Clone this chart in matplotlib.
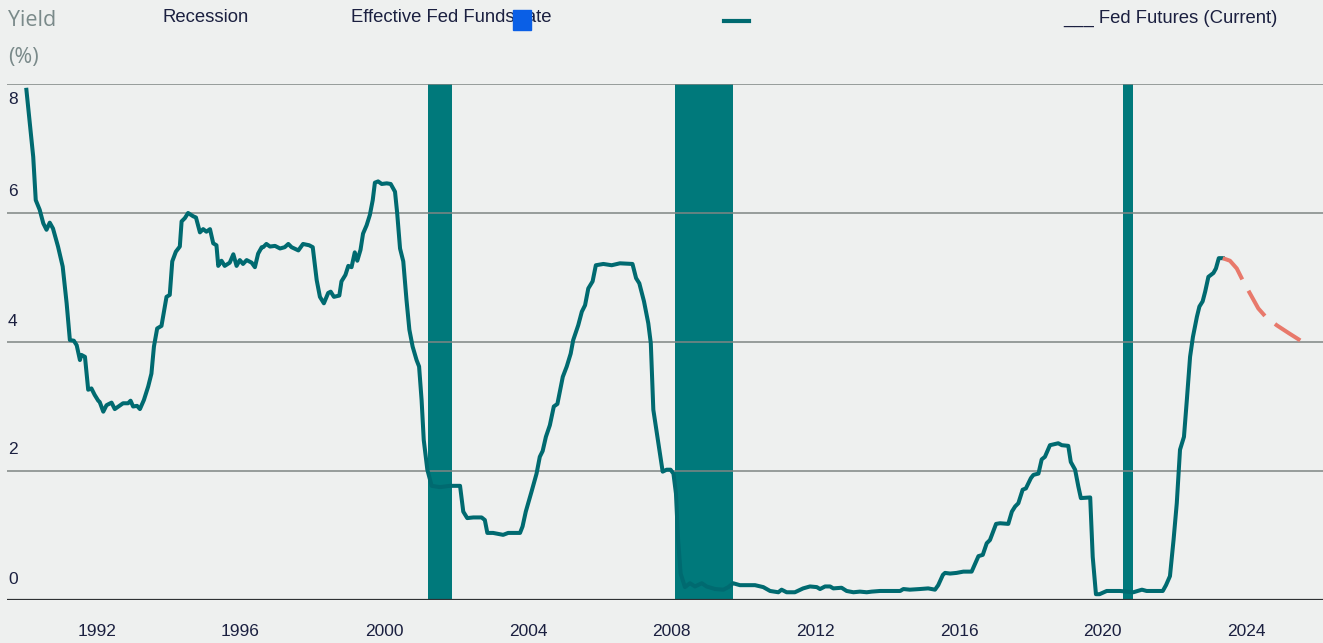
import matplotlib
matplotlib.use('Agg')
import matplotlib.pyplot as plt
from matplotlib.patches import Rectangle
from matplotlib.lines import Line2D

plt.rcParams['font.family'] = ['Liberation Sans', 'DejaVu Sans']

# effective fed funds rate (year, %)
rate_years = [1990.04, 1990.23, 1990.30, 1990.41, 1990.51, 1990.60, 1990.69, 1990.78, 1990.92, 1991.05,
              1991.16, 1991.25, 1991.36, 1991.44, 1991.53, 1991.57, 1991.67, 1991.76, 1991.85, 1991.94,
              1992.04, 1992.08, 1992.18, 1992.27, 1992.41, 1992.50, 1992.73, 1992.87, 1992.94, 1993.01,
              1993.12, 1993.20, 1993.31, 1993.43, 1993.52, 1993.59, 1993.68, 1993.80, 1993.94, 1994.03,
              1994.10, 1994.20, 1994.31, 1994.36, 1994.45, 1994.54, 1994.68, 1994.76, 1994.87, 1994.96,
              1995.05, 1995.15, 1995.24, 1995.33, 1995.38, 1995.47, 1995.56, 1995.70, 1995.80, 1995.89,
              1995.98, 1996.07, 1996.17, 1996.31, 1996.40, 1996.49, 1996.59, 1996.63, 1996.72, 1996.82,
              1996.96, 1997.10, 1997.23, 1997.33, 1997.42, 1997.61, 1997.74, 1997.91, 1998.01, 1998.12,
              1998.21, 1998.32, 1998.44, 1998.51, 1998.60, 1998.75, 1998.81, 1998.92, 1999.00, 1999.09,
              1999.18, 1999.25, 1999.34, 1999.41, 1999.51, 1999.60, 1999.68, 1999.74, 1999.83, 1999.93,
              2000.07, 2000.18, 2000.30, 2000.36, 2000.44, 2000.53, 2000.62, 2000.70, 2000.79, 2000.90,
              2000.97, 2001.04, 2001.10, 2001.20, 2001.32, 2001.55, 2001.83, 2002.11, 2002.20, 2002.31,
              2002.48, 2002.71, 2002.80, 2002.87, 2003.03, 2003.31, 2003.45, 2003.78, 2003.85, 2003.94,
              2004.10, 2004.24, 2004.33, 2004.41, 2004.50, 2004.61, 2004.72, 2004.82, 2004.97, 2005.08,
              2005.19, 2005.26, 2005.40, 2005.50, 2005.59, 2005.68, 2005.80, 2005.89, 2006.10, 2006.33,
              2006.56, 2006.91, 2007.01, 2007.10, 2007.23, 2007.35, 2007.42, 2007.49, 2007.63, 2007.75,
              2007.86, 2007.97, 2008.05, 2008.12, 2008.18, 2008.25, 2008.37, 2008.51, 2008.65, 2008.84,
              2008.97, 2009.21, 2009.44, 2009.58, 2009.71, 2009.90, 2010.32, 2010.55, 2010.74, 2010.97,
              2011.06, 2011.20, 2011.43, 2011.66, 2011.85, 2012.04, 2012.13, 2012.27, 2012.41, 2012.50,
              2012.73, 2012.87, 2013.06, 2013.24, 2013.43, 2013.57, 2013.80, 2014.36, 2014.45, 2014.63,
              2014.91, 2015.14, 2015.33, 2015.42, 2015.55, 2015.61, 2015.75, 2015.93, 2016.12, 2016.35,
              2016.47, 2016.54, 2016.66, 2016.77, 2016.86, 2017.03, 2017.14, 2017.37, 2017.47, 2017.56,
              2017.65, 2017.77, 2017.86, 2018.00, 2018.07, 2018.21, 2018.30, 2018.39, 2018.53, 2018.76,
              2018.86, 2019.04, 2019.11, 2019.23, 2019.32, 2019.39, 2019.65, 2019.72, 2019.81, 2019.91,
              2020.11, 2020.48, 2020.85, 2021.09, 2021.22, 2021.67, 2021.76, 2021.87, 2021.97, 2022.06,
              2022.15, 2022.26, 2022.34, 2022.43, 2022.51, 2022.62, 2022.69, 2022.78, 2022.85, 2022.94,
              2023.08, 2023.15, 2023.23, 2023.34]
rate_values = [7.91, 6.87, 6.20, 6.05, 5.84, 5.74, 5.85, 5.76, 5.48, 5.17,
               4.60, 4.03, 4.02, 3.95, 3.72, 3.80, 3.77, 3.26, 3.28, 3.18,
               3.09, 3.07, 2.92, 3.02, 3.06, 2.96, 3.05, 3.05, 3.09, 3.00,
               3.01, 2.96, 3.10, 3.31, 3.51, 3.93, 4.21, 4.25, 4.70, 4.73,
               5.25, 5.40, 5.48, 5.87, 5.92, 6.00, 5.95, 5.93, 5.70, 5.75,
               5.71, 5.75, 5.53, 5.50, 5.18, 5.26, 5.18, 5.23, 5.36, 5.18,
               5.27, 5.21, 5.27, 5.23, 5.16, 5.37, 5.47, 5.47, 5.52, 5.48,
               5.49, 5.45, 5.47, 5.52, 5.47, 5.42, 5.52, 5.50, 5.47, 4.96,
               4.70, 4.60, 4.76, 4.78, 4.70, 4.72, 4.94, 5.04, 5.18, 5.16,
               5.39, 5.26, 5.43, 5.68, 5.81, 5.97, 6.20, 6.47, 6.49, 6.45,
               6.46, 6.45, 6.33, 6.00, 5.45, 5.25, 4.65, 4.19, 3.93, 3.72,
               3.62, 3.10, 2.48, 2.02, 1.77, 1.75, 1.77, 1.77, 1.37, 1.27,
               1.28, 1.28, 1.24, 1.04, 1.04, 1.01, 1.04, 1.04, 1.14, 1.37,
               1.68, 1.96, 2.22, 2.31, 2.53, 2.71, 3.00, 3.04, 3.46, 3.62,
               3.82, 4.03, 4.26, 4.47, 4.57, 4.83, 4.94, 5.19, 5.21, 5.19,
               5.22, 5.21, 4.99, 4.91, 4.63, 4.29, 3.98, 2.95, 2.43, 1.99,
               2.02, 2.02, 1.96, 1.65, 0.93, 0.41, 0.20, 0.26, 0.21, 0.26,
               0.21, 0.17, 0.16, 0.20, 0.26, 0.23, 0.23, 0.20, 0.14, 0.12,
               0.16, 0.12, 0.12, 0.18, 0.21, 0.20, 0.17, 0.21, 0.21, 0.18,
               0.19, 0.14, 0.12, 0.13, 0.12, 0.13, 0.14, 0.14, 0.17, 0.16,
               0.17, 0.18, 0.16, 0.23, 0.39, 0.42, 0.41, 0.42, 0.44, 0.44,
               0.59, 0.68, 0.70, 0.88, 0.93, 1.18, 1.19, 1.18, 1.37, 1.45,
               1.50, 1.71, 1.73, 1.89, 1.94, 1.96, 2.18, 2.22, 2.40, 2.43,
               2.40, 2.39, 2.14, 2.02, 1.76, 1.58, 1.59, 0.67, 0.09, 0.09,
               0.14, 0.14, 0.12, 0.16, 0.14, 0.14, 0.23, 0.37, 0.93, 1.50,
               2.33, 2.53, 3.10, 3.77, 4.08, 4.39, 4.55, 4.63, 4.78, 5.01,
               5.07, 5.14, 5.30, 5.30]

futures_years = [2023.34, 2023.54, 2023.73, 2023.91, 2024.15, 2024.33, 2024.52, 2024.84, 2025.17, 2025.51]
futures_values = [5.30, 5.26, 5.14, 4.94, 4.70, 4.52, 4.40, 4.26, 4.14, 4.02]

recession_starts = [2001.22, 2008.09, 2020.56]
recession_ends = [2001.88, 2009.71, 2020.84]

x_ticks = [1992, 1996, 2000, 2004, 2008, 2012, 2016, 2020, 2024]
y_ticks = [0, 2, 4, 6, 8]

W, H = 1323, 643
bg = '#eef0ef'
teal = '#006a70'
bar_col = '#00797b'
txt = '#1b2040'

fig = plt.figure(figsize=(W / 100, H / 100), dpi=100, facecolor=bg)
ax = fig.add_axes([7 / W, 43 / H, 1 - 7 / W, (600 - 84) / H])
ax.set_facecolor(bg)

for s, e in zip(recession_starts, recession_ends):
    ax.axvspan(s, e, color=bar_col, lw=0, zorder=1)

for v in y_ticks[1:]:
    ax.axhline(v, color='#7f8583', lw=1.1, zorder=2)
ax.axhline(0, color='#2e3133', lw=1.6, zorder=2)

ax.plot(rate_years, rate_values, color=teal, lw=2.9, zorder=3, solid_joinstyle='round')
ax.plot(futures_years, futures_values, color='#e8796b', lw=2.9, zorder=3,
        dashes=(7.5, 3.2), solid_capstyle='butt')

ax.set_xlim(1989.5, 2026.13)
ax.set_ylim(0, 8)
for sp in ax.spines.values():
    sp.set_visible(False)

ax.set_xticks(x_ticks)
ax.set_xticklabels([str(t) for t in x_ticks])
ax.tick_params(axis='x', length=0, pad=17, labelsize=12.5, labelcolor=txt)
ax.set_yticks([])

for v in y_ticks:
    off = -16 if v == 8 else 21
    ax.annotate(str(v), xy=(0, v), xycoords=('axes fraction', 'data'),
                xytext=(1, off), textcoords='offset pixels',
                va='center', ha='left', fontsize=12.5, color=txt)

# header / legend row
def fx(px):
    return px / W

def fy(py):
    return 1 - py / H

fig.text(fx(8), fy(21), 'Yield', fontsize=15.5, color='#7a8a8a', family=['Open Sans', 'DejaVu Sans'],
         va='center', ha='left')
fig.text(fx(8), fy(57), '(%)', fontsize=15.5, color='#7a8a8a', family=['Open Sans', 'DejaVu Sans'],
         va='center', ha='left')
fig.text(fx(162), fy(18), 'Recession', fontsize=13.3, color=txt, va='center', ha='left')
fig.text(fx(351), fy(18), 'Effective Fed Funds rate', fontsize=13.3, color=txt, va='center', ha='left')
fig.patches.append(Rectangle((fx(513), fy(30)), fx(531) - fx(513), fy(10) - fy(30),
                             transform=fig.transFigure, color='#0a5fe6', zorder=5))
fig.lines.append(Line2D([fx(724), fx(749)], [fy(21), fy(21)], transform=fig.transFigure,
                        color=teal, lw=3))
fig.text(fx(1063), fy(18), '___ Fed Futures (Current)', fontsize=13.3, color=txt, va='center', ha='left')

fig.savefig('out.png', dpi=100, facecolor=bg)
